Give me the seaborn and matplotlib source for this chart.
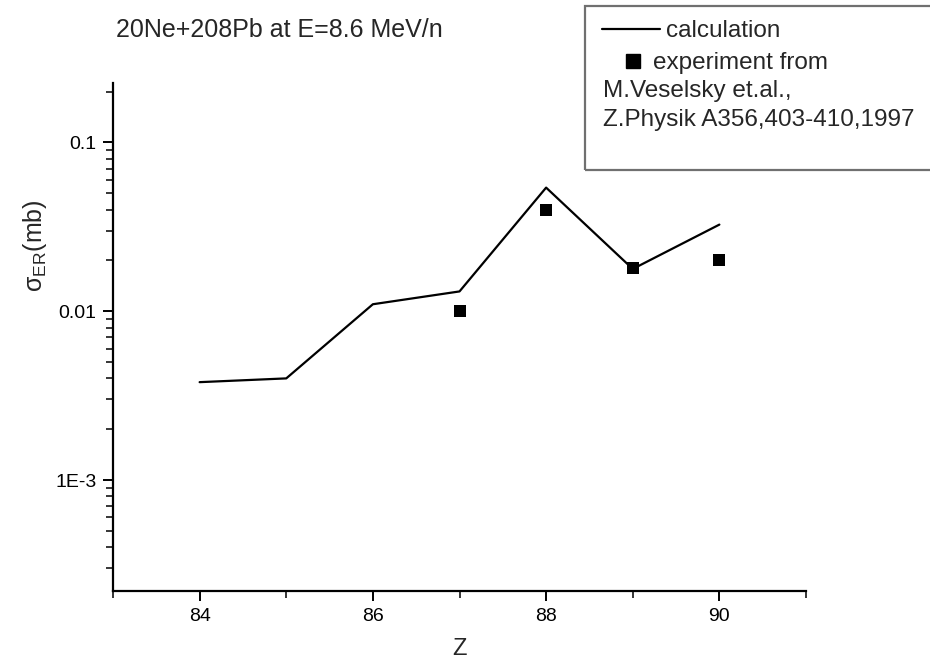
import matplotlib
matplotlib.use("Agg")
import matplotlib.pyplot as plt
import matplotlib.ticker as mticker
from matplotlib.patches import Rectangle
from matplotlib.lines import Line2D
import seaborn as sns
import pandas as pd

# ---- data ----
z_calc = [84, 85, 86, 87, 88, 89, 90]
sigma_calc = [0.0038, 0.0040, 0.011, 0.0131, 0.054, 0.0178, 0.0326]
z_exp = [87, 88, 89, 90]
sigma_exp = [0.010, 0.040, 0.018, 0.020]
x_major = [84, 86, 88, 90]
y_major = [0.001, 0.01, 0.1]
y_major_labels = ["1E-3", "0.01", "0.1"]

title_text = "20Ne+208Pb at E=8.6 MeV/n"
legend_calc = "calculation"
legend_exp = "experiment from"
ref_lines = ["M.Veselsky et.al.,", "Z.Physik A356,403-410,1997"]

sns.set_style("ticks")
plt.rcParams["font.family"] = ["Liberation Sans", "DejaVu Sans"]
plt.rcParams["mathtext.fontset"] = "custom"
plt.rcParams["mathtext.rm"] = "Liberation Sans"
plt.rcParams["mathtext.it"] = "Liberation Sans:italic"

W, H = 930, 670
fig = plt.figure(figsize=(W / 100, H / 100), dpi=100)
L, R, B, T = 113, 806, 591, 83
ax = fig.add_axes([L / W, 1 - B / H, (R - L) / W, (B - T) / H])

df_calc = pd.DataFrame({"Z": z_calc, "sigma": sigma_calc})
df_exp = pd.DataFrame({"Z": z_exp, "sigma": sigma_exp})

sns.lineplot(data=df_calc, x="Z", y="sigma", ax=ax, color="black", lw=1.6)
sns.scatterplot(data=df_exp, x="Z", y="sigma", ax=ax, color="black",
                marker="s", s=75, edgecolor="black", linewidth=0, zorder=3)

ax.set_yscale("log")
ax.set_xlim(83, 91)
ax.set_ylim(2.2e-4, 0.225)

ax.set_xticks(x_major)
ax.set_xticklabels([str(v) for v in x_major])
ax.xaxis.set_minor_locator(mticker.FixedLocator([83, 85, 87, 89, 91]))
ax.set_yticks(y_major)
ax.set_yticklabels(y_major_labels)
ax.yaxis.set_minor_locator(mticker.LogLocator(base=10, subs=range(2, 10)))
ax.yaxis.set_minor_formatter(mticker.NullFormatter())

ax.tick_params(axis="both", which="major", direction="out", length=7, width=1.4,
               labelsize=14, colors="black", pad=5)
ax.tick_params(axis="both", which="minor", direction="out", length=5, width=1.3)

for s in ["top", "right"]:
    ax.spines[s].set_visible(False)
for s in ["left", "bottom"]:
    ax.spines[s].set_linewidth(1.6)
    ax.spines[s].set_color("black")

ax.set_xlabel("Z", fontsize=17)
ax.xaxis.set_label_coords(0.5, -0.093)
ax.set_ylabel(r"$\mathrm{\sigma_{ER}}$(mb)", fontsize=18)
ax.yaxis.set_label_coords(-0.093, 0.68)

fig.text(116 / W, 1 - 37 / H, title_text, fontsize=18, va="baseline", ha="left")

# legend box
rect = Rectangle((585 / W, 1 - 170 / H), 360 / W, 164 / H, transform=fig.transFigure,
                 fill=False, edgecolor="#707070", lw=1.6, clip_on=False)
fig.add_artist(rect)

h_calc = Line2D([], [], color="black", lw=1.6)
h_exp = Line2D([], [], color="black", marker="s", ls="none", markersize=10.5)
leg1 = ax.legend([h_calc], [legend_calc], loc="upper left",
                 bbox_to_anchor=(602 / W, 1 - 20 / H), bbox_transform=fig.transFigure,
                 frameon=False, fontsize=17.5, handlelength=2.4, handletextpad=0.25,
                 borderaxespad=0, borderpad=0)
ax.add_artist(leg1)
leg2 = ax.legend([h_exp], [legend_exp], loc="upper left",
                 bbox_to_anchor=(620 / W, 1 - 52 / H), bbox_transform=fig.transFigure,
                 frameon=False, fontsize=17.5, handlelength=1.1, handletextpad=0.25,
                 borderaxespad=0, borderpad=0)

fig.text(603 / W, 1 - 97 / H, ref_lines[0], fontsize=17.5, va="baseline", ha="left")
fig.text(603 / W, 1 - 126 / H, ref_lines[1], fontsize=17.5, va="baseline", ha="left")

fig.savefig("out.png", dpi=100)
